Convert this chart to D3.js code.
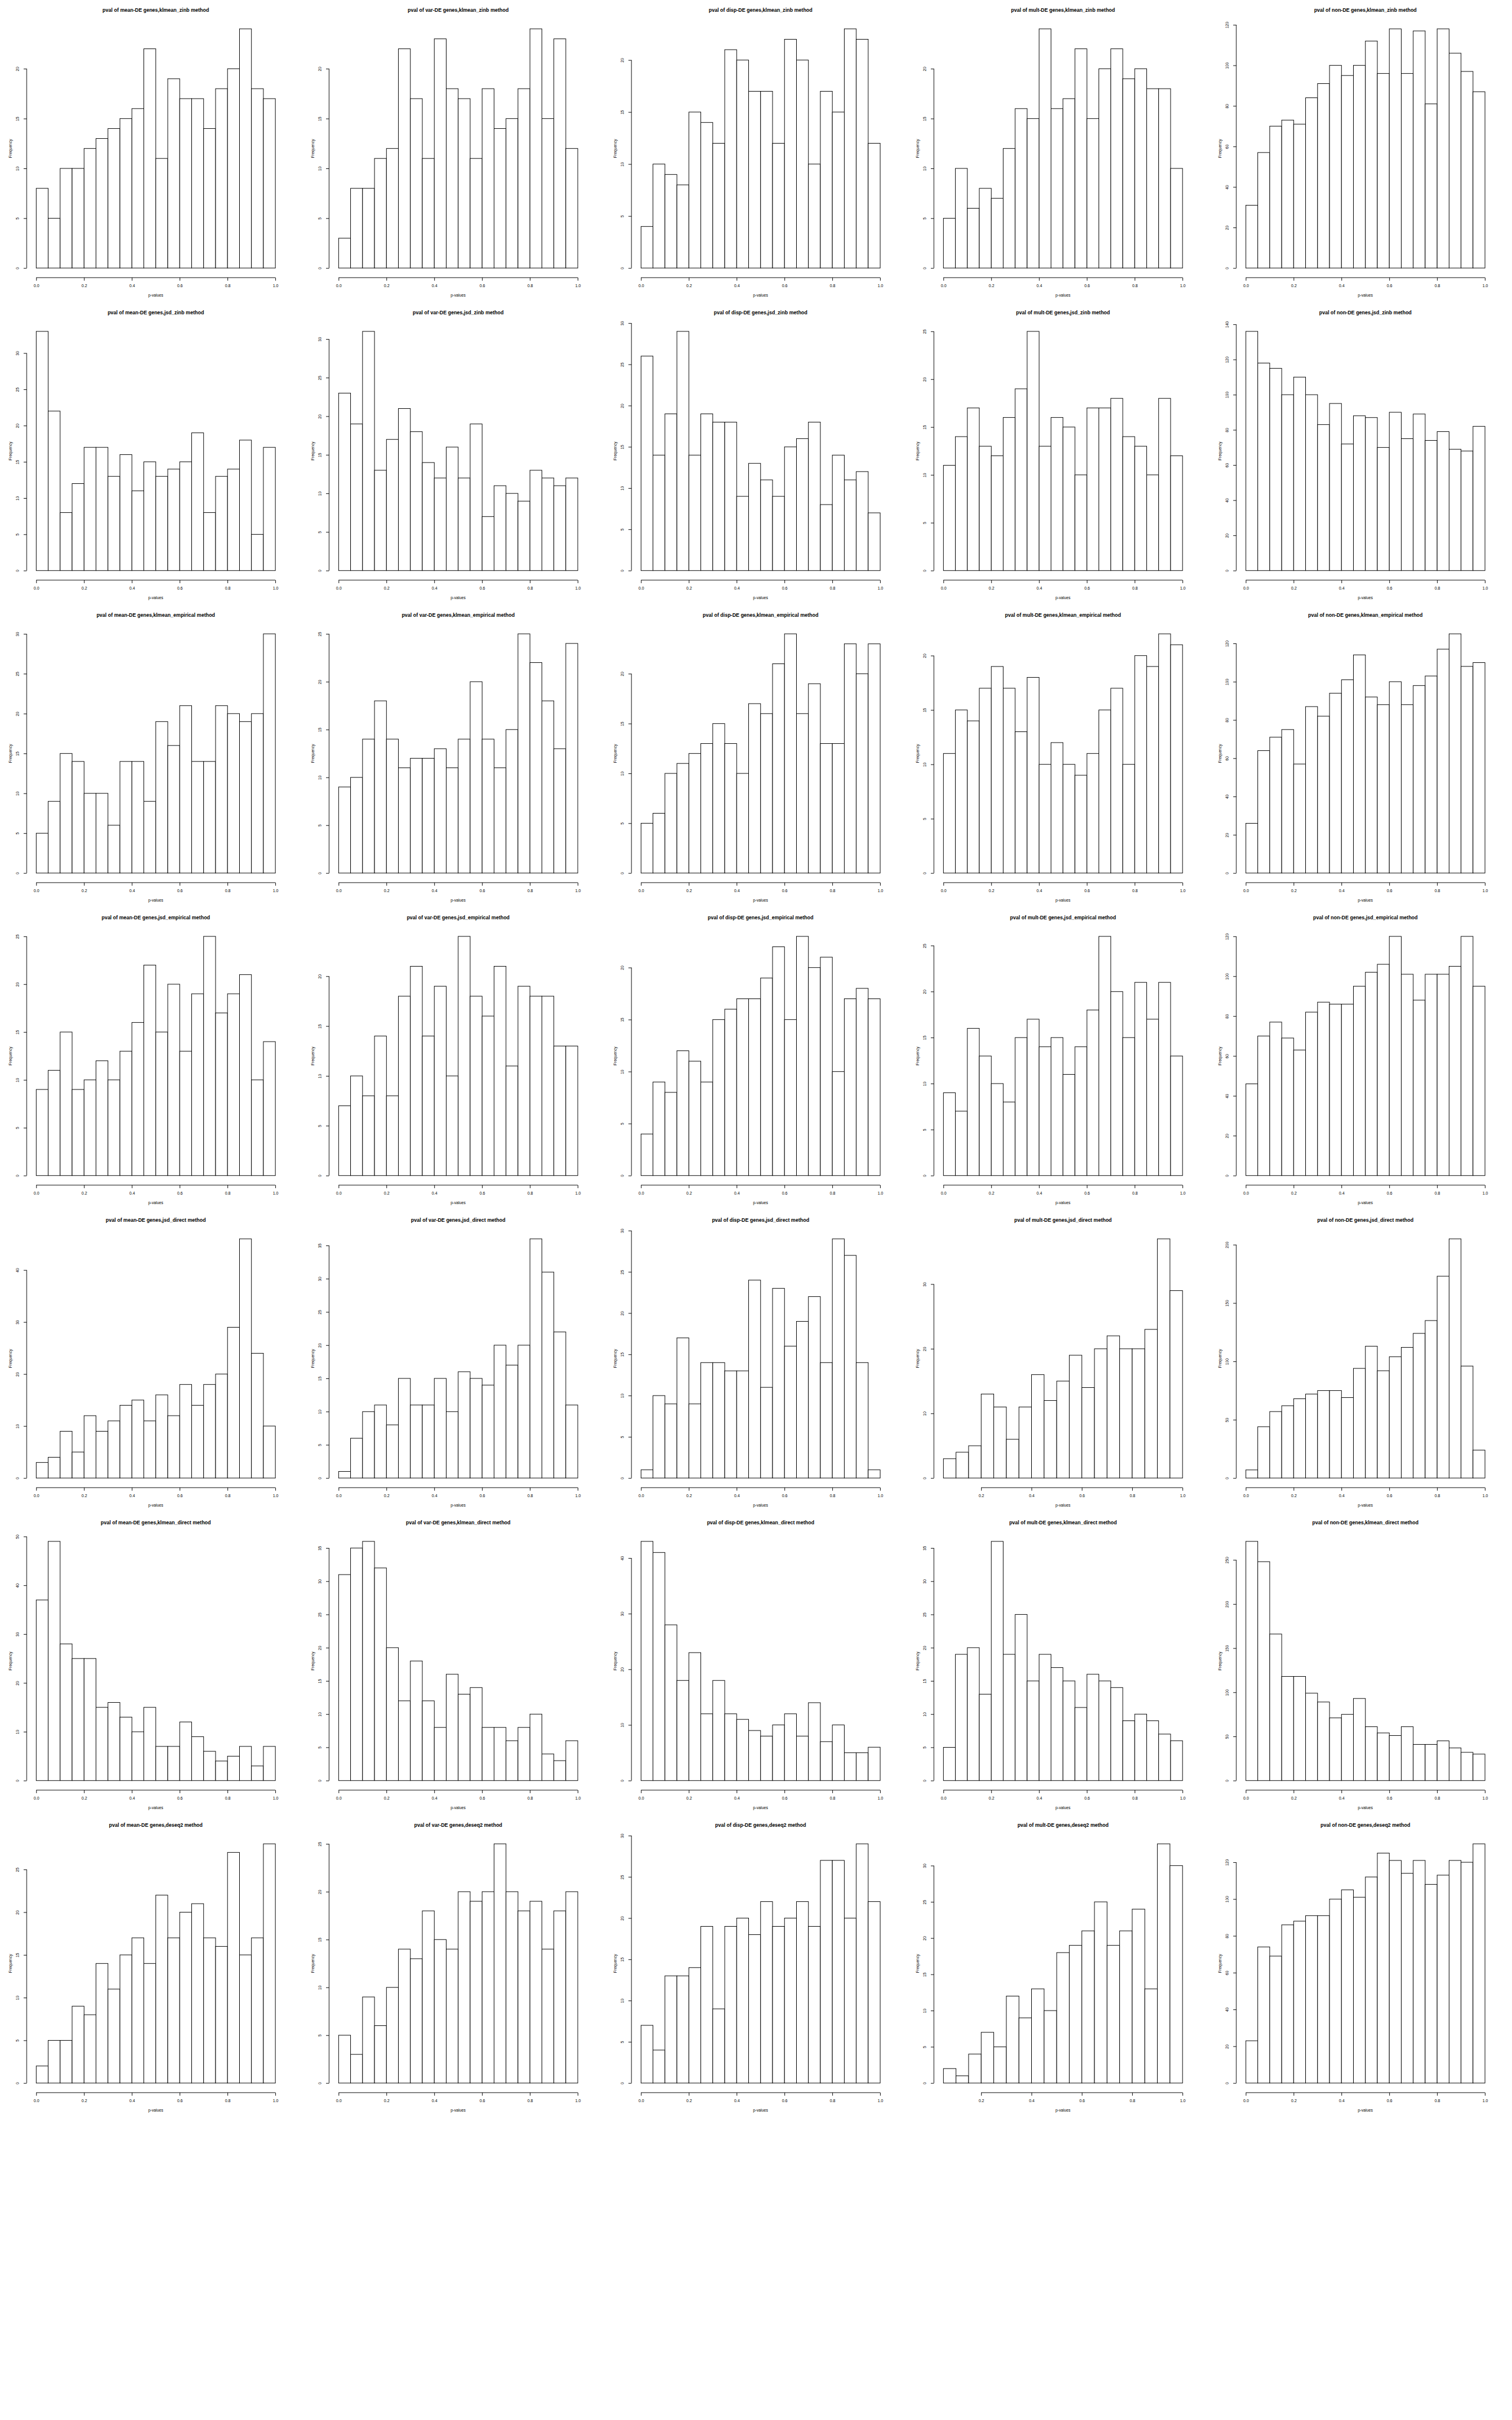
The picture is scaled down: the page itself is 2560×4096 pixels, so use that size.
<!DOCTYPE html>
<html><head><meta charset="utf-8">
<script src="https://cdn.jsdelivr.net/npm/d3@7"></script>
<style>body{margin:0;background:#fff}svg{display:block}</style>
</head><body>
<svg id="chart" width="2560" height="4096"></svg>
<script>
// ---------------- data ----------------
const deTypes = ["mean", "var", "disp", "mult", "non"];
const methods = ["klmean_zinb", "jsd_zinb", "klmean_empirical", "jsd_empirical", "jsd_direct", "klmean_direct", "deseq2"];
const xTickValues = [0.0, 0.2, 0.4, 0.6, 0.8, 1.0];
const binWidth = 0.05;

const countsKlmeanZinb = [
  [8,5,10,10,12,13,14,15,16,22,11,19,17,17,14,18,20,24,18,17],
  [3,8,8,11,12,22,17,11,23,18,17,11,18,14,15,18,24,15,23,12],
  [4,10,9,8,15,14,12,21,20,17,17,12,22,20,10,17,15,23,22,12],
  [5,10,6,8,7,12,16,15,24,16,17,22,15,20,22,19,20,18,18,10],
  [31,57,70,73,71,84,91,100,95,100,112,96,118,96,117,81,118,106,97,87]
];
const countsJsdZinb = [
  [33,22,8,12,17,17,13,16,11,15,13,14,15,19,8,13,14,18,5,17],
  [23,19,31,13,17,21,18,14,12,16,12,19,7,11,10,9,13,12,11,12],
  [26,14,19,29,14,19,18,18,9,13,11,9,15,16,18,8,14,11,12,7],
  [11,14,17,13,12,16,19,25,13,16,15,10,17,17,18,14,13,10,18,12],
  [136,118,115,100,110,100,83,95,72,88,87,70,90,75,89,74,79,69,68,82]
];
const countsKlmeanEmpirical = [
  [5,9,15,14,10,10,6,14,14,9,19,16,21,14,14,21,20,19,20,30],
  [9,10,14,18,14,11,12,12,13,11,14,20,14,11,15,25,22,18,13,24],
  [5,6,10,11,12,13,15,13,10,17,16,21,24,16,19,13,13,23,20,23],
  [11,15,14,17,19,17,13,18,10,12,10,9,11,15,17,10,20,19,22,21],
  [26,64,71,75,57,87,82,94,101,114,92,88,100,88,98,103,117,125,108,110]
];
const countsJsdEmpirical = [
  [9,11,15,9,10,12,10,13,16,22,15,20,13,19,25,17,19,21,10,14],
  [7,10,8,14,8,18,21,14,19,10,24,18,16,21,11,19,18,18,13,13],
  [4,9,8,12,11,9,15,16,17,17,19,22,15,23,20,21,10,17,18,17],
  [9,7,16,13,10,8,15,17,14,15,11,14,18,26,20,15,21,17,21,13],
  [46,70,77,69,63,82,87,86,86,95,102,106,120,101,88,101,101,105,120,95]
];
const countsJsdDirect = [
  [3,4,9,5,12,9,11,14,15,11,16,12,18,14,18,20,29,46,24,10],
  [1,6,10,11,8,15,11,11,15,10,16,15,14,20,17,20,36,31,22,11],
  [1,10,9,17,9,14,14,13,13,24,11,23,16,19,22,14,29,27,14,1],
  [3,4,5,13,11,6,11,16,12,15,19,14,20,22,20,20,23,37,29],
  [7,44,57,62,68,72,75,75,69,94,113,92,104,112,124,135,173,205,96,24]
];
const countsKlmeanDirect = [
  [37,49,28,25,25,15,16,13,10,15,7,7,12,9,6,4,5,7,3,7],
  [31,35,36,32,20,12,18,12,8,16,13,14,8,8,6,8,10,4,3,6],
  [43,41,28,18,23,12,18,12,11,9,8,10,12,8,14,7,10,5,5,6],
  [5,19,20,13,36,19,25,15,19,17,15,11,16,15,14,9,10,9,7,6],
  [271,248,166,118,118,99,89,71,75,93,61,54,51,61,41,41,45,37,32,30]
];
const countsDeseq2 = [
  [2,5,5,9,8,14,11,15,17,14,22,17,20,21,17,16,27,15,17,28],
  [5,3,9,6,10,14,13,18,15,14,20,19,20,25,20,18,19,14,18,20],
  [7,4,13,13,14,19,9,19,20,18,22,19,20,22,19,27,27,20,29,22],
  [2,1,4,7,5,12,9,13,10,18,19,21,25,19,21,24,13,33,30],
  [23,74,69,86,88,91,91,100,105,101,112,125,121,114,121,108,113,121,120,130]
];
const countsByMethod = [countsKlmeanZinb, countsJsdZinb, countsKlmeanEmpirical, countsJsdEmpirical,
                        countsJsdDirect, countsKlmeanDirect, countsDeseq2];

// step between y-axis tick labels, per row (method) and column (DE type)
const yTickSteps = [
  [5,5,5,5,20],
  [5,5,5,5,20],
  [5,5,5,5,20],
  [5,5,5,5,20],
  [10,5,5,10,50],
  [10,5,10,5,50],
  [5,5,5,5,20]
];
// first bin edge of each histogram
const binStarts = [
  [0,0,0,0,0],
  [0,0,0,0,0],
  [0,0,0,0,0],
  [0,0,0,0,0],
  [0,0,0,0.05,0],
  [0,0,0,0,0],
  [0,0,0,0.05,0]
];

// ---------------- drawing ----------------
const SCALE = 2560 / 3000;
const PANEL = 600;
const PL = 52.9, PR = 565.3, PT = 38.3, PB = 550.7;
const FONT = "'Liberation Sans', Arial, Helvetica, sans-serif";
const AX_FS = 7.9, TITLE_FS = 10;
const LW = 1.1;

const svg = d3.select("#chart");
svg.append("rect").attr("width", 2560).attr("height", 4096).attr("fill", "#fff");
const root = svg.append("g").attr("transform", `scale(${SCALE})`);

countsByMethod.forEach((rowCounts, r) => {
  rowCounts.forEach((vals, c) => {
    const g = root.append("g").attr("transform", `translate(${c * PANEL},${r * PANEL})`)
      .style("font-family", FONT);
    const x0 = binStarts[r][c];
    const x1 = x0 + vals.length * binWidth;
    const span = x1 - x0;
    const M = d3.max(vals);
    const x = d3.scaleLinear().domain([x0 - 0.04 * span, x1 + 0.04 * span]).range([PL, PR]);
    const y = d3.scaleLinear().domain([-0.04 * M, 1.04 * M]).range([PB, PT]);

    // bars
    g.append("g").selectAll("rect").data(vals).join("rect")
      .attr("x", (d, i) => x(x0 + i * binWidth))
      .attr("width", (d, i) => x(x0 + (i + 1) * binWidth) - x(x0 + i * binWidth))
      .attr("y", d => y(d))
      .attr("height", d => y(0) - y(d))
      .attr("fill", "#fff").attr("stroke", "#000").attr("stroke-width", LW);

    // y axis
    const yt = d3.range(0, 1.04 * M + 1e-9, yTickSteps[r][c]);
    const ya = g.append("g").attr("transform", `translate(${PL},0)`)
      .call(d3.axisLeft(y).tickValues(yt).tickSize(6).tickFormat(d3.format("d")));
    ya.select(".domain").remove();
    ya.selectAll("line").attr("stroke", "#000").attr("stroke-width", LW);
    ya.append("line").attr("x1", 0).attr("x2", 0)
      .attr("y1", y(yt[0])).attr("y2", y(yt[yt.length - 1]))
      .attr("stroke", "#000").attr("stroke-width", LW);
    ya.selectAll("text")
      .attr("x", null).attr("dy", null)
      .attr("text-anchor", "middle").attr("dominant-baseline", "central")
      .attr("transform", `translate(${34.4 - PL},0) rotate(-90)`)
      .attr("fill", "#000").style("font-family", FONT).style("font-size", AX_FS + "px");

    // x axis
    const [ux0, ux1] = x.domain();
    const xt = xTickValues.filter(v => v >= ux0 - 1e-9 && v <= ux1 + 1e-9);
    const xa = g.append("g").attr("transform", `translate(0,${PB})`)
      .call(d3.axisBottom(x).tickValues(xt).tickSize(6).tickFormat(d3.format(".1f")));
    xa.select(".domain").remove();
    xa.selectAll("line").attr("stroke", "#000").attr("stroke-width", LW);
    xa.append("line").attr("y1", 0).attr("y2", 0)
      .attr("x1", x(xt[0])).attr("x2", x(xt[xt.length - 1]))
      .attr("stroke", "#000").attr("stroke-width", LW);
    xa.selectAll("text")
      .attr("y", 566.3 - PB).attr("dy", null).attr("dominant-baseline", "central")
      .attr("fill", "#000").style("font-family", FONT).style("font-size", AX_FS + "px");

    const cx = (PL + PR) / 2, cy = (PT + PB) / 2;
    // axis titles
    g.append("text").attr("x", cx).attr("y", 585.5)
      .attr("text-anchor", "middle").attr("dominant-baseline", "central")
      .style("font-size", AX_FS + "px").text("p-values");
    g.append("text").attr("transform", `translate(20.7,${cy}) rotate(-90)`)
      .attr("text-anchor", "middle").attr("dominant-baseline", "central")
      .style("font-size", AX_FS + "px").text("Frequency");
    // main title
    g.append("text").attr("x", cx).attr("y", 19.9)
      .attr("text-anchor", "middle").attr("dominant-baseline", "central")
      .style("font-size", TITLE_FS + "px").style("font-weight", "bold")
      .text(`pval of ${deTypes[c]}-DE genes,${methods[r]} method`);
  });
});
</script>
</body></html>
